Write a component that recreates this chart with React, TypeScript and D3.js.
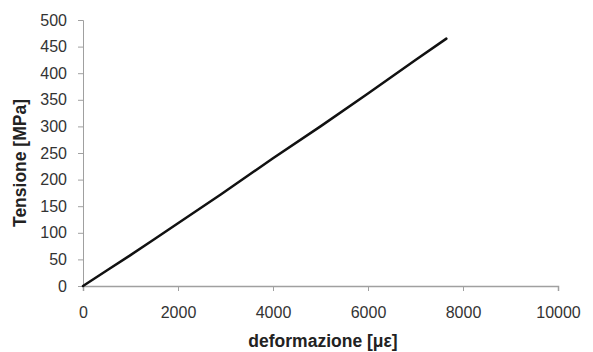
import { useEffect, useRef } from 'react'
import * as d3 from 'd3'

const strain = [0, 500, 1000, 1500, 2000, 2900, 4000, 5000, 6000, 7000, 7650]
const stress = [0, 29, 58, 88, 118, 172, 240, 300, 362, 425, 465]
const xTicks = [0, 2000, 4000, 6000, 8000, 10000]
const yTicks = [0, 50, 100, 150, 200, 250, 300, 350, 400, 450, 500]

export default function App() {
  const svgRef = useRef<SVGSVGElement>(null)

  useEffect(() => {
    if (!svgRef.current) return
    const width = 593
    const height = 352
    const margin = { top: 20, right: 35, bottom: 66, left: 83 }
    const innerWidth = width - margin.left - margin.right
    const innerHeight = height - margin.top - margin.bottom

    const root = d3.select(svgRef.current)
    root.selectAll("*").remove()
    root.attr("width", width).attr("height", height)

    root.append("rect").attr("width", width).attr("height", height).attr("fill", "#fff")

    const svg = root.append("g")
      .attr("transform", `translate(${margin.left},${margin.top})`)

    const x = d3.scaleLinear().domain([0, 10000]).range([0, innerWidth])
    const y = d3.scaleLinear().domain([0, 500]).range([innerHeight, 0])

    const axisColor = "#a0a0a0"
    const font = "'Liberation Sans', Arial, sans-serif"

    // x axis
    const gx = svg.append("g")
      .attr("transform", `translate(0,${innerHeight})`)
      .call(d3.axisBottom(x).tickValues(xTicks).tickSize(5).tickPadding(16).tickFormat(d3.format("d")))
    gx.select(".domain").attr("stroke", axisColor).attr("stroke-width", 1.5)
    gx.selectAll(".tick line").attr("stroke", axisColor)
    gx.selectAll(".tick text").attr("fill", "#333").style("font-size", "16px").style("font-family", font)

    // y axis
    const gy = svg.append("g")
      .call(d3.axisLeft(y).tickValues(yTicks).tickSize(5).tickPadding(11))
    gy.select(".domain").attr("stroke", axisColor).attr("stroke-width", 1)
    gy.selectAll(".tick line").attr("stroke", axisColor)
    gy.selectAll(".tick text").attr("fill", "#333").style("font-size", "16px").style("font-family", font)

    const data = strain.map((s, i) => ({ s, t: stress[i] }))
    const line = d3.line<{ s: number, t: number }>()
      .x(d => x(d.s))
      .y(d => y(d.t))

    svg.append("path")
      .datum(data)
      .attr("fill", "none")
      .attr("stroke", "#111")
      .attr("stroke-width", 2.5)
      .attr("stroke-linecap", "round")
      .attr("d", line)

    // axis titles
    svg.append("text")
      .attr("x", 323 - margin.left)
      .attr("y", 347 - margin.top)
      .attr("text-anchor", "middle")
      .attr("fill", "#222")
      .style("font-size", "17.5px")
      .style("font-weight", "bold")
      .style("font-family", font)
      .text("deformazione [με]")

    svg.append("text")
      .attr("transform", `translate(${26 - margin.left},${163 - margin.top}) rotate(-90)`)
      .attr("text-anchor", "middle")
      .attr("fill", "#222")
      .style("font-size", "17.5px")
      .style("font-weight", "bold")
      .style("font-family", font)
      .text("Tensione [MPa]")
  }, [])

  return (
    <div style={{ position: "absolute", left: 0, top: 0 }}>
      <svg ref={svgRef} style={{ display: "block" }} />
    </div>
  )
}
